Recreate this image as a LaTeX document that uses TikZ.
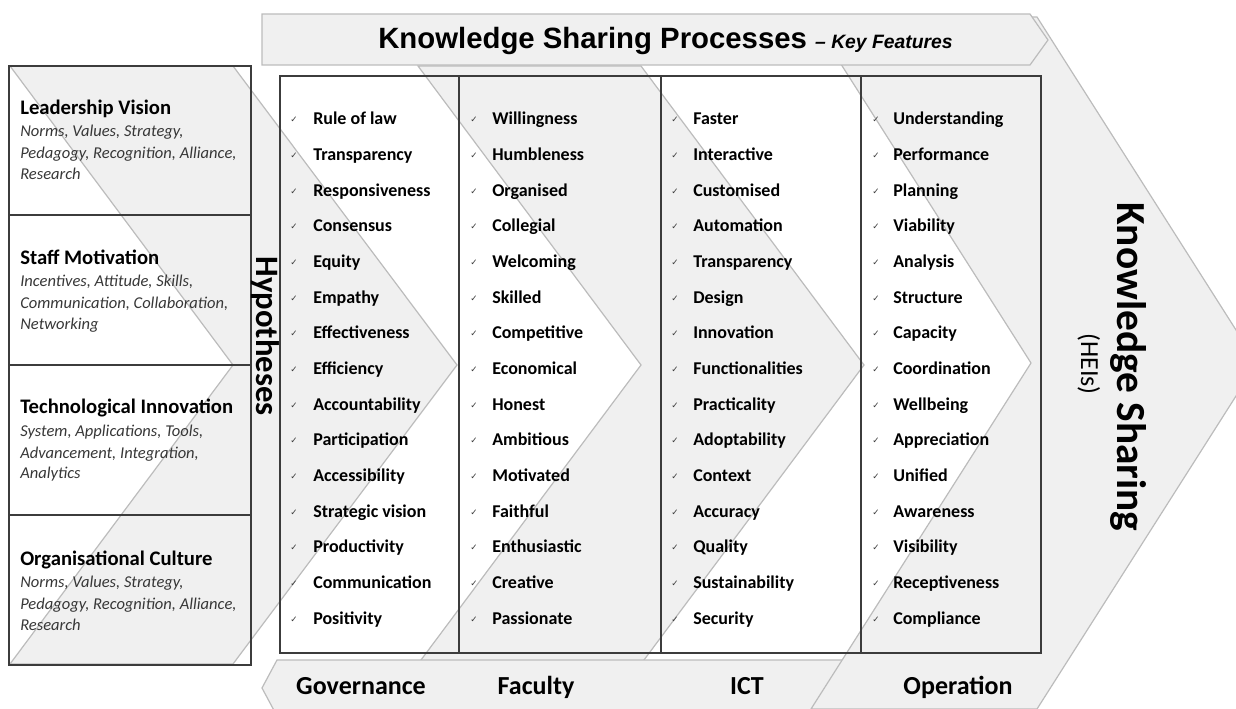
\documentclass[tikz,border=0pt]{standalone}
\usepackage{fontspec}
\setmainfont{Carlito}
\newfontfamily\bannerfont{Liberation Sans}
\newfontfamily\tickfont{DejaVu Sans}
\usetikzlibrary{positioning}

\definecolor{chevfill}{RGB}{240,240,240}
\definecolor{chevline}{RGB}{188,188,188}
\definecolor{boxline}{RGB}{60,60,60}
\definecolor{subtext}{RGB}{55,55,55}

\tikzset{
  chevron/.style={fill=chevfill, draw=chevline, line width=0.9},
  framebox/.style={draw=boxline, line width=1.3},
  item/.style={anchor=base west, inner sep=0pt, font=\bfseries\fontsize{13.5}{15}\selectfont},
  tick/.style={anchor=base, inner sep=0pt, text=boxline, font=\tickfont\fontsize{6.5}{7}\selectfont},
  factor/.style={anchor=base west, inner sep=0pt, font=\bfseries\fontsize{15.5}{17}\selectfont},
  factsub/.style={anchor=base west, inner sep=0pt, text=subtext, font=\itshape\fontsize{12.4}{14}\selectfont},
  pillar/.style={anchor=base, inner sep=0pt, font=\bfseries\fontsize{19.5}{22}\selectfont}
}

\begin{document}
\begin{tikzpicture}[x=0.75pt,y=0.75pt,yscale=-1,xscale=1]
\useasboundingbox (0,0) rectangle (1236,709);

% background chevrons
\draw[chevron] (10,66) -- (233,66) -- (457,365) -- (233,664) -- (10,664) -- (233,365) -- cycle;
\draw[chevron] (418,66) -- (641,66) -- (864,365) -- (641,664) -- (418,664) -- (641,365) -- cycle;
% bottom banner
\draw[chevron] (277,660) -- (1000,660) -- (1000,716) -- (277,716) -- (262,688) -- cycle;
\draw[chevron] (811,17) -- (1037,17) -- (1257,363) -- (1037,709) -- (811,709) -- (1031,363) -- cycle;
% top banner
\draw[chevron] (262,14) -- (1030,14) -- (1048,40) -- (1030,65) -- (262,65) -- cycle;

% left boxes
\draw[framebox] (9,66) rectangle (251,665);
\foreach \yy in {215,365,515}
  \draw[framebox] (9,\yy) -- (251,\yy);

% feature columns
\draw[framebox] (280,76) rectangle (1041,653);
\foreach \xx in {459,661,861}
  \draw[framebox] (\xx,76) -- (\xx,653);

% titles
\node[anchor=base west, inner sep=0pt] (title) at (378,49)
  {\bannerfont\bfseries\fontsize{22}{24}\selectfont Knowledge Sharing Processes \fontsize{14.5}{16}\selectfont\itshape – Key Features};
\node[rotate=-90, inner sep=0pt, font=\bfseries\fontsize{24.5}{27}\selectfont] (hyp) at (265,336) {Hypotheses};
\node[rotate=-90, inner sep=0pt, anchor=base, font=\bfseries\fontsize{31}{34}\selectfont] (ks) at (1117,367) {Knowledge Sharing};
\node[rotate=-90, inner sep=0pt, anchor=base, font=\fontsize{19.5}{22}\selectfont] (hei) at (1081,364) {(HEIs)};

% left factors
\node[factor] (lv) at (20,115) {Leadership Vision};
\node[factsub] (lv1) at (20,137) {Norms, Values, Strategy,};
\node[factsub] (lv2) at (20,159) {Pedagogy, Recognition, Alliance,};
\node[factsub] (lv3) at (20,180) {Research};

\node[factor] (sm) at (20,265) {Staff Motivation};
\node[factsub] (sm1) at (20,287) {Incentives, Attitude, Skills,};
\node[factsub] (sm2) at (20,309) {Communication, Collaboration,};
\node[factsub] (sm3) at (20,330) {Networking};

\node[factor] (ti) at (20,414) {Technological Innovation};
\node[factsub] (ti1) at (20,436) {System, Applications, Tools,};
\node[factsub] (ti2) at (20,458) {Advancement, Integration,};
\node[factsub] (ti3) at (20,479) {Analytics};

\node[factor] (oc) at (20,565) {Organisational Culture};
\node[factsub] (oc1) at (20,587) {Norms, Values, Strategy,};
\node[factsub] (oc2) at (20,609) {Pedagogy, Recognition, Alliance,};
\node[factsub] (oc3) at (20,630) {Research};

% key features
\foreach \name/\tx/\ix/\list in {
  gov/294/313/{Rule of law,Transparency,Responsiveness,Consensus,Equity,Empathy,Effectiveness,Efficiency,Accountability,Participation,Accessibility,Strategic vision,Productivity,Communication,Positivity},
  fac/474/492/{Willingness,Humbleness,Organised,Collegial,Welcoming,Skilled,Competitive,Economical,Honest,Ambitious,Motivated,Faithful,Enthusiastic,Creative,Passionate},
  ict/675/693/{Faster,Interactive,Customised,Automation,Transparency,Design,Innovation,Functionalities,Practicality,Adoptability,Context,Accuracy,Quality,Sustainability,Security},
  ops/876/893/{Understanding,Performance,Planning,Viability,Analysis,Structure,Capacity,Coordination,Wellbeing,Appreciation,Unified,Awareness,Visibility,Receptiveness,Compliance}}
{
  \foreach \txt [count=\i] in \list {
    \node[tick] (\name tick\i) at (\tx,{123+35.65*(\i-1)}) {✓};
    \node[item] (\name\i) at (\ix,{125+35.65*(\i-1)}) {\txt};
  }
}

% pillar labels
\node[pillar] (gov) at (361,694) {Governance};
\node[pillar] (fac) at (536,694) {Faculty};
\node[pillar] (ict) at (747,694) {ICT};
\node[pillar] (ops) at (958,694) {Operation};

\end{tikzpicture}
\end{document}
